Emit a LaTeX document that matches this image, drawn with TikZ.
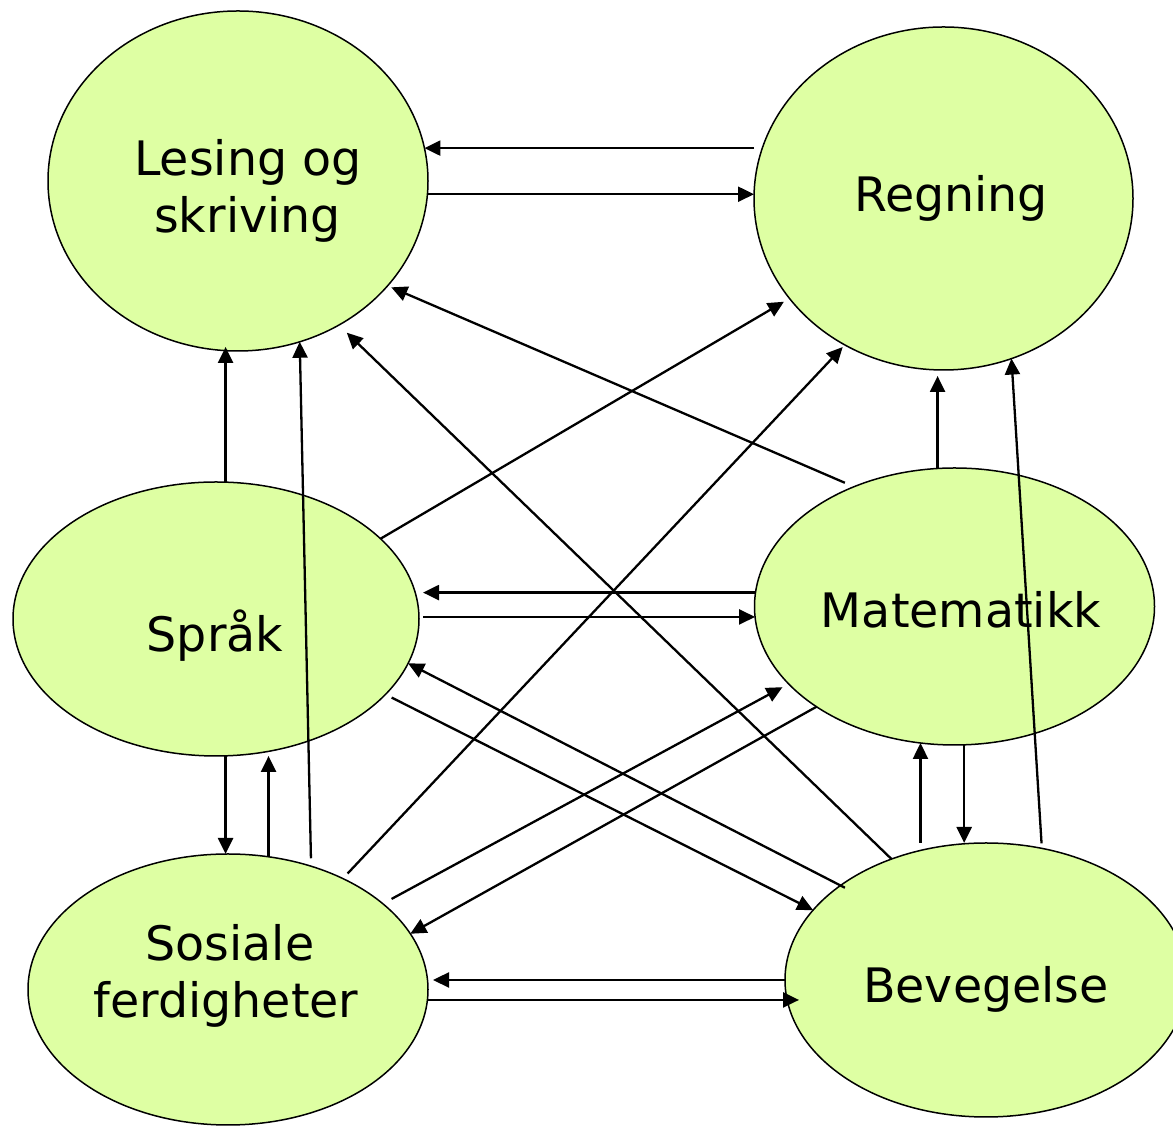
\documentclass[tikz,border=0pt]{standalone}
\usepackage{fontspec}
\setmainfont{DejaVu Sans}
\usetikzlibrary{arrows.meta,shapes.geometric}
\definecolor{ellfill}{RGB}{222,255,163}
\begin{document}
\begin{tikzpicture}[x=1pt,y=1pt,
  ell/.style={ellipse, draw=black, line width=1.5pt, fill=ellfill, inner sep=0pt, outer sep=0pt},
  lbl/.style={font=\fontsize{47.5}{57}\selectfont, inner sep=0pt, anchor=base},
  arr/.style={line width=2.3pt, -{Triangle[length=16pt,width=15pt]}}]
\useasboundingbox (0,0) rectangle (1173,1126);
\fill[white] (0,0) rectangle (1173,1126);
% ellipses
\node[ell, minimum width=380pt, minimum height=340pt] (les) at (238,945) {};
\node[ell, minimum width=379pt, minimum height=343pt] (reg) at (943.5,927.5) {};
\node[ell, minimum width=406pt, minimum height=274pt] (spr) at (216,507) {};
\node[ell, minimum width=400pt, minimum height=277pt] (mat) at (954.5,519.5) {};
\node[ell, minimum width=400pt, minimum height=271pt] (sos) at (228,136.5) {};
\node[ell, minimum width=402pt, minimum height=274pt] (bev) at (986,146) {};
% labels
\node[lbl] (lesA) at (248,950) {Lesing og};
\node[lbl] (lesB) at (247.5,893) {skriving};
\node[lbl] (regT) at (951,914) {Regning};
\node[lbl] (sprT) at (215,474) {Språk};
\node[lbl] (matT) at (961,498) {Matematikk};
\node[lbl] (sosA) at (230,165) {Sosiale};
\node[lbl] (sosB) at (226,108) {ferdigheter};
\node[lbl] (bevT) at (986,123) {Bevegelse};
% horizontal pairs
\draw[arr] (les.10 -| reg.west) -- (les.10);
\draw[arr] (les.-4) -- (les.-4 -| reg.west);
\draw[arr, shorten >=4pt] (mat.176) -- (mat.176 -| spr.east);
\draw[arr, shorten <=4pt] (mat.183 -| spr.east) -- (mat.183);
\draw[arr, shorten >=5pt] (bev.180) -- (bev.180 -| sos.east);
\draw[arr, shorten >=-14pt] (sos.357) -- (sos.357 -| bev.west);
% vertical pairs
\draw[arr, shorten >=-4pt] (spr.86) -- (spr.86 |- les.south);
\draw[arr] (spr.274) -- (spr.274 |- sos.north);
\draw[arr] (sos.73) -- (sos.73 |- spr.south);
\draw[arr, shorten >=6pt] (mat.97.5) -- (mat.97.5 |- reg.south);
\draw[arr] (mat.256 |- bev.north) -- (mat.256);
\draw[arr] (mat.274) -- (mat.274 |- bev.north);
% diagonals
\draw[arr, shorten <=8pt] (sos.56.2) -- (les.291);
\draw[arr, shorten >=11pt] (bev.128.5) -- (les.305.6);
\draw[arr, shorten <=10pt, shorten >=4pt] (mat.130.6) -- (les.325.5);
\draw[arr, shorten >=6.5pt] (spr.26) -- (reg.213);
\draw[arr, shorten <=7pt, shorten >=3pt] (sos.44.6) -- (reg.236);
\draw[arr, shorten <=5pt] (bev.67.8) -- (reg.293);
\draw[arr, shorten <=7pt] (spr.336) -- (bev.158);
\draw[arr, shorten <=-5pt] (bev.147) -- (spr.347);
\draw[arr, shorten <=10pt, shorten >=7pt] (sos.29) -- (mat.205);
\draw[arr] (mat.216) -- (sos.17);
\end{tikzpicture}
\end{document}
